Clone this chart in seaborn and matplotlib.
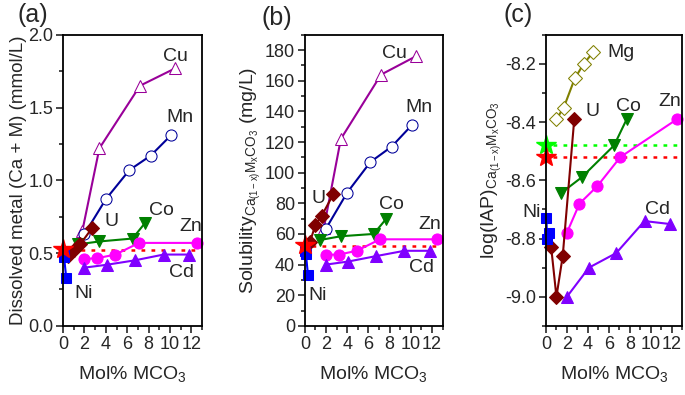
import numpy as np
import matplotlib
matplotlib.use("Agg")
import matplotlib.pyplot as plt
import seaborn as sns
from matplotlib.ticker import MultipleLocator

sns.set_theme(style="ticks")
plt.rcParams['font.family'] = ['Liberation Sans', 'DejaVu Sans']
plt.rcParams['mathtext.fontset'] = 'custom'
plt.rcParams['mathtext.rm'] = 'Liberation Sans'
plt.rcParams['mathtext.it'] = 'Liberation Sans'
plt.rcParams['mathtext.default'] = 'regular'

# mol% MCO3 for each series
cu_x = [1.8, 3.4, 7.2, 10.5]
mn_x = [2.0, 4.0, 6.2, 8.2, 10.1]
co_x = [1.4, 3.4, 6.5, 7.7]
zn_x = [2.0, 3.2, 4.9, 7.1, 12.5]
cd_x = [2.0, 4.1, 6.7, 9.4, 11.8]
u_x = [0.5, 1.0, 1.6, 2.7]
ni_x = [0.05, 0.1, 0.3]
mg_x = [1.0, 1.7, 2.75, 3.6, 4.5]

# (a) dissolved metal, mmol/L
cu_a = [0.65, 1.22, 1.65, 1.77]
mn_a = [0.63, 0.87, 1.07, 1.17, 1.31]
co_a = [0.56, 0.58, 0.60, 0.71]
zn_a = [0.46, 0.465, 0.49, 0.57, 0.57]
cd_a = [0.40, 0.42, 0.45, 0.49, 0.49]
u_a = [0.48, 0.52, 0.56, 0.67]
ni_a = [0.49, 0.47, 0.33]
calcite_a = 0.53
calcite_line_a = 0.52

# (b) solubility, mg/L
cu_b = [64, 122, 164, 176]
mn_b = [63.5, 87, 107, 117, 131]
co_b = [56, 58.5, 60, 70]
zn_b = [46.5, 46.5, 49, 56.5, 56.5]
cd_b = [40, 42, 45.5, 49, 49]
u_b = [55, 66, 72, 86]
ni_b = [49, 47, 33]
calcite_b = 53
calcite_line_b = 52

# (c) log(IAP)
mg_c = [-8.39, -8.35, -8.25, -8.20, -8.16]
co_c = [-8.645, -8.59, -8.48, -8.39]
zn_c = [-8.78, -8.68, -8.62, -8.52, -8.39]
cd_c = [-9.0, -8.90, -8.85, -8.74, -8.75]
u_c = [-8.83, -9.0, -8.86, -8.39]
ni_c = [-8.73, -8.80, -8.78]
calcite_c = -8.52
aragonite_c = -8.48

C = {'Cu': '#990099', 'Mn': '#000099', 'Co': '#008000', 'Zn': '#ff00ff',
     'Cd': '#8000ff', 'U': '#800000', 'Ni': '#0000ff', 'Mg': '#808000'}


def series(ax, x, y, name, marker, hollow=False, ms=8):
    kw = dict(marker=marker, color=C[name], markersize=ms, lw=1.5,
              markeredgecolor=C[name], clip_on=False)
    if hollow:
        kw['markerfacecolor'] = 'white'
    sns.lineplot(x=x, y=y, ax=ax, sort=False, estimator=None, **kw)


fig = plt.figure(figsize=(6.85, 3.95), dpi=100)
ax_a = fig.add_axes([0.092, 0.175, 0.203, 0.737])
ax_b = fig.add_axes([0.445, 0.175, 0.201, 0.737])
ax_c = fig.add_axes([0.797, 0.175, 0.199, 0.737])

LBL = 14
# ---- (a)
ax = ax_a
ax.hlines(calcite_line_a, 0.7, 12.5, colors='red', linestyles=(0, (1.5, 2.5)), lw=1.8)
series(ax, cu_x, cu_a, 'Cu', '^', hollow=True)
series(ax, mn_x, mn_a, 'Mn', 'o', hollow=True)
series(ax, co_x, co_a, 'Co', 'v')
series(ax, zn_x, zn_a, 'Zn', 'o')
series(ax, cd_x, cd_a, 'Cd', '^')
series(ax, u_x, u_a, 'U', 'D', ms=7)
series(ax, ni_x, ni_a, 'Ni', 's', ms=7)
ax.plot([0], [calcite_a], marker='*', color='red', ms=15, clip_on=False, ls='none')
ax.set_ylim(0, 2.0)
ax.yaxis.set_major_locator(MultipleLocator(0.5))
ax.yaxis.set_minor_locator(MultipleLocator(0.25))
ax.yaxis.set_major_formatter(matplotlib.ticker.FormatStrFormatter('%.1f'))
ax.set_ylabel("Dissolved metal (Ca + M) (mmol/L)", fontsize=13.5, labelpad=1)
for t, x, y in [('Cu', 10.5, 1.85), ('Mn', 10.9, 1.43), ('U', 4.5, 0.72),
                ('Co', 9.2, 0.79), ('Zn', 11.9, 0.68), ('Cd', 11.1, 0.37), ('Ni', 1.9, 0.22)]:
    ax.text(x, y, t, fontsize=LBL, ha='center', va='center')

# ---- (b)
ax = ax_b
ax.hlines(calcite_line_b, 0.7, 12.5, colors='red', linestyles=(0, (1.5, 2.5)), lw=1.8)
series(ax, cu_x, cu_b, 'Cu', '^', hollow=True)
series(ax, mn_x, mn_b, 'Mn', 'o', hollow=True)
series(ax, co_x, co_b, 'Co', 'v')
series(ax, zn_x, zn_b, 'Zn', 'o')
series(ax, cd_x, cd_b, 'Cd', '^')
series(ax, u_x, u_b, 'U', 'D', ms=7)
series(ax, ni_x, ni_b, 'Ni', 's', ms=7)
ax.plot([0], [calcite_b], marker='*', color='red', ms=15, clip_on=False, ls='none')
ax.set_ylim(0, 190)
ax.yaxis.set_major_locator(MultipleLocator(20))
ax.yaxis.set_minor_locator(MultipleLocator(10))
ax.set_ylabel(r"Solubility$_{Ca_{(1-x)}M_xCO_3}$ (mg/L)", fontsize=14, labelpad=1)
for t, x, y in [('Cu', 8.45, 178), ('Mn', 10.8, 142.5), ('U', 1.26, 83),
                ('Co', 8.2, 79.5), ('Zn', 11.8, 66), ('Cd', 11.05, 38), ('Ni', 1.17, 20)]:
    ax.text(x, y, t, fontsize=LBL, ha='center', va='center')

# ---- (c)
ax = ax_c
ax.hlines(aragonite_c, 0.7, 12.5, colors='#00ff00', linestyles=(0, (1.5, 2.5)), lw=1.8)
ax.hlines(calcite_c, 0.7, 12.5, colors='red', linestyles=(0, (1.5, 2.5)), lw=1.8)
series(ax, mg_x, mg_c, 'Mg', 'D', hollow=True, ms=7)
series(ax, co_x, co_c, 'Co', 'v')
series(ax, zn_x, zn_c, 'Zn', 'o')
series(ax, cd_x, cd_c, 'Cd', '^')
series(ax, u_x, u_c, 'U', 'D', ms=7)
series(ax, ni_x, ni_c, 'Ni', 's', ms=7)
ax.plot([0], [aragonite_c], marker='*', color='#00ff00', ms=15, clip_on=False, ls='none')
ax.plot([0], [calcite_c], marker='*', color='red', ms=15, clip_on=False, ls='none')
ax.set_ylim(-9.1, -8.1)
ax.yaxis.set_major_locator(MultipleLocator(0.2))
ax.yaxis.set_minor_locator(MultipleLocator(0.1))
ax.yaxis.set_major_formatter(matplotlib.ticker.FormatStrFormatter('%.1f'))
ax.set_ylabel(r"log(IAP)$_{Ca_{(1-x)}M_xCO_3}$", fontsize=14, labelpad=1)
for t, x, y in [('Mg', 7.2, -8.16), ('U', 4.4, -8.365), ('Co', 7.9, -8.345),
                ('Zn', 11.8, -8.33), ('Cd', 10.6, -8.70), ('Ni', -1.4, -8.71)]:
    ax.text(x, y, t, fontsize=LBL, ha='center', va='center')

for ax, letter in [(ax_a, '(a)'), (ax_b, '(b)'), (ax_c, '(c)')]:
    ax.set_xlim(0, 13)
    ax.xaxis.set_major_locator(MultipleLocator(2))
    ax.xaxis.set_minor_locator(MultipleLocator(1))
    ax.set_xlabel(r"Mol% MCO$_3$", fontsize=14, labelpad=8)
    ax.tick_params(which='major', direction='out', length=5, width=1.2, labelsize=13,
                   top=False, right=False, pad=2)
    ax.tick_params(which='minor', direction='out', length=3, width=1.2, top=False, right=False)
    for s in ax.spines.values():
        s.set_linewidth(1.3)
        s.set_color('black')

fig.text(33 / 685, 1 - 15 / 395, '(a)', fontsize=18, ha='center', va='center')
fig.text(277 / 685, 1 - 18 / 395, '(b)', fontsize=18, ha='center', va='center')
fig.text(518 / 685, 1 - 15 / 395, '(c)', fontsize=18, ha='center', va='center')

fig.savefig("out.png", dpi=100)
